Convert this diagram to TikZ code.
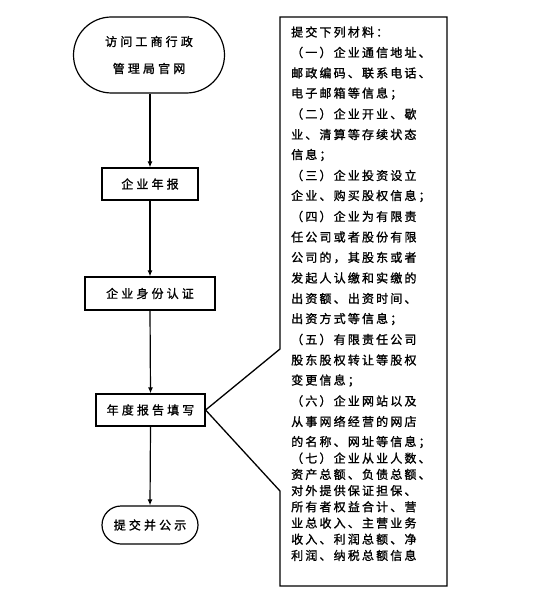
\documentclass[tikz,border=0pt]{standalone}
\usepackage{fontspec}
\usetikzlibrary{arrows.meta,shapes.misc}
\newfontfamily\cjkA[LetterSpace=18,FakeBold=1.2]{Noto Sans CJK SC}
\newfontfamily\cjkB[LetterSpace=26,FakeBold=1.2]{Noto Sans CJK SC}
\begin{document}
\begin{tikzpicture}[x=1pt,y=-1pt,
  flow/.style={draw=black,line width=1.2pt,inner sep=0pt,align=center,
    font=\cjkB\fontsize{12}{27}\selectfont},
  boxnode/.style={flow,rectangle},
  termnode/.style={flow,rounded rectangle},
  arr/.style={line width=1.2pt,-{Latex[length=6pt,width=5pt]}},
  txt/.style={anchor=west,inner sep=0pt,font=\cjkA\fontsize{12}{14}\selectfont}]
\useasboundingbox[fill=white] (0,0) rectangle (546,612);
\node[termnode,minimum width=151pt,minimum height=76pt] (t1) at (149,55) {访问工商行政\\管理局官网};
\node[boxnode,minimum width=96pt,minimum height=32pt] (b1) at (150,184) {企业年报};
\node[boxnode,minimum width=130pt,minimum height=33pt] (b2) at (150,293.5) {企业身份认证};
\node[boxnode,minimum width=109pt,minimum height=32pt] (b3) at (150.5,410) {年度报告填写};
\node[termnode,minimum width=96pt,minimum height=38pt] (t2) at (150,525) {提交并公示};
\draw[arr] (t1.south -| b1) -- (b1.north);
\draw[arr] (b1.south) -- (b2.north);
\draw[arr] (b2.south) -- (b3.north);
\draw[arr] (b3.south) -- (t2.north);
\coordinate (c1) at (280,17);
\coordinate (c2) at (447,17);
\coordinate (c3) at (447,586);
\coordinate (c4) at (280,586);
\coordinate (c5) at (280,491);
\coordinate (c6) at (280,349);
\draw[line width=1.3pt,line join=miter] (c1) -- (c2) -- (c3) -- (c4) -- (c5) -- (b3.east) -- (c6) -- cycle;
\foreach \t [count=\i] in {提交下列材料：,（一）企业通信地址、,邮政编码、联系电话、,电子邮箱等信息；,（二）企业开业、歇,业、清算等存续状态,信息；,（三）企业投资设立,企业、购买股权信息；,（四）企业为有限责,任公司或者股份有限,公司的，其股东或者,发起人认缴和实缴的,出资额、出资时间、,出资方式等信息；,（五）有限责任公司,股东股权转让等股权,变更信息；,（六）企业网站以及,从事网络经营的网店,的名称、网址等信息；,（七）企业从业人数、,资产总额、负债总额、,对外提供保证担保、,所有者权益合计、营,业总收入、主营业务,收入、利润总额、净,利润、纳税总额信息}{
  \pgfmathsetmacro\yy{\i<22 ? 32+20.5*(\i-1) : 442+16.2*(\i-21)}
  \node[txt] (l\i) at (291,\yy) {\t};
}
\end{tikzpicture}
\end{document}
